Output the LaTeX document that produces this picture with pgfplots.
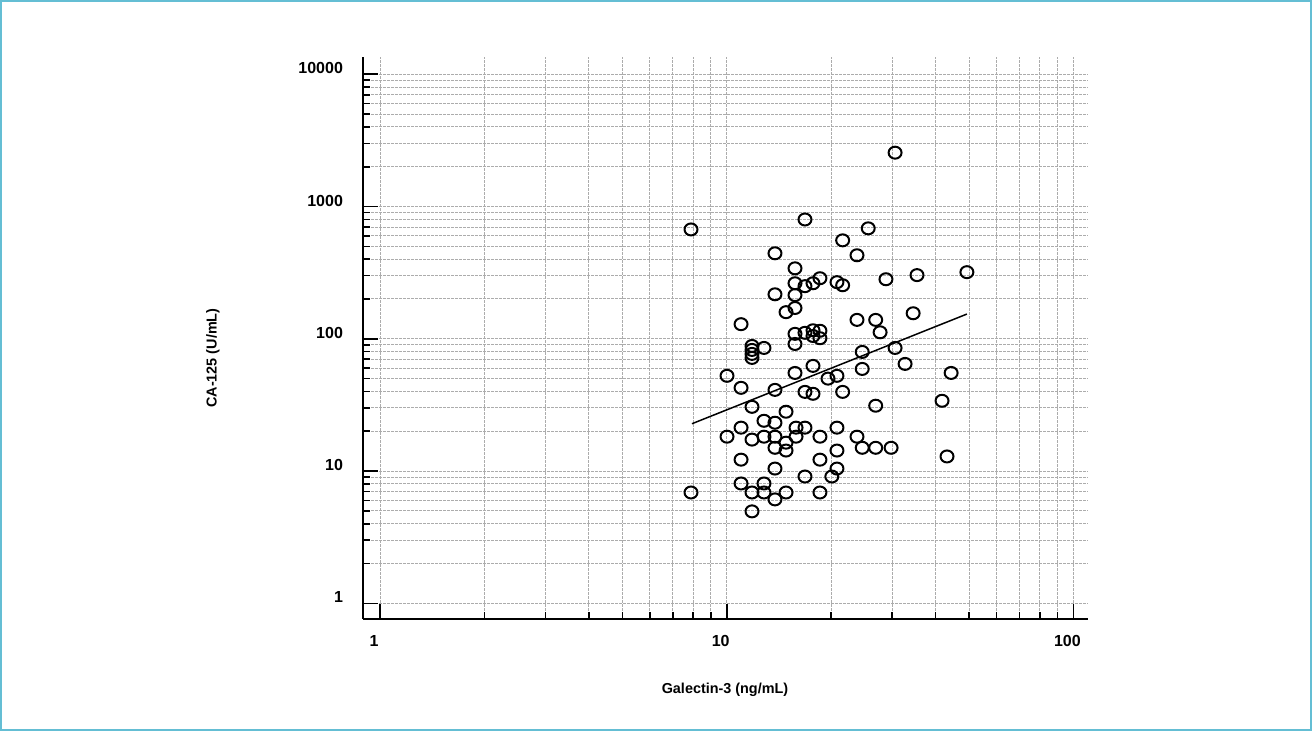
\documentclass[border=0pt]{standalone}
\usepackage{fontspec}
\setmainfont{Liberation Sans}
\usepackage{pgfplots}
\pgfplotsset{compat=1.18}
\definecolor{frameblue}{RGB}{100,190,212}
\begin{document}
\begin{tikzpicture}
\path[use as bounding box] (-181.5pt,-56pt) rectangle (474.5pt,309.5pt);
\begin{axis}[
 at={(0,0)}, anchor=south west,
 scale only axis, width=362.5pt, height=281pt,
 xmode=log, ymode=log,
 xmin=0.893, xmax=110.2, ymin=0.762, ymax=13500,
 axis x line=bottom, axis y line=left,
 axis line style={-, line width=1pt},
 xtick={1,10,100}, xticklabels={1,10,100},
 ytick={1,10,100,1000,10000}, yticklabels={1,10,100,1000,10000},
 minor xtick={2,3,4,5,6,7,8,9,20,30,40,50,60,70,80,90},
 minor ytick={2,3,4,5,6,7,8,9,20,30,40,50,60,70,80,90,200,300,400,500,600,700,800,900,2000,3000,4000,5000,6000,7000,8000,9000},
 grid=both,
 major grid style={gray!65, line width=0.5pt, dash pattern=on 1.5pt off 0.5pt},
 minor grid style={gray!65, line width=0.5pt, dash pattern=on 1.5pt off 0.5pt},
 tick align=inside,
 major tick length=7.5pt, minor tick length=3.5pt,
 tick style={black, line width=0.8pt},
 tick label style={font=\bfseries\fontsize{8}{9}\selectfont},
 /pgf/number format/assume math mode=true,
 xticklabel style={anchor=center, yshift=-11pt, xshift=-3pt},
 yticklabel style={anchor=east, xshift=-6.5pt, yshift=3pt},
 xlabel={Galectin-3 (ng/mL)}, ylabel={CA-125 (U/mL)},
 label style={font=\bfseries\fontsize{7.2}{9}\selectfont},
 xlabel style={at={(axis description cs:0.4993,-0.1263)}, anchor=center},
 ylabel style={at={(axis description cs:-0.2069,0.4644)}, anchor=center},
]
\addplot[only marks, mark=o, mark size=3pt, mark options={xscale=1.08, line width=1pt, black}] coordinates {
(7.89,671) (7.89,6.89) (30.6,2553) (16.82,798) (25.6,684) (21.6,555) (13.78,443) (23.76,428)
(15.74,341) (49.3,319) (35.4,303) (28.8,282) (18.58,287) (20.8,268) (21.6,254) (15.74,263)
(16.82,250) (17.74,263) (13.78,217) (15.74,214) (15.74,171) (14.83,159) (11.0,129) (34.5,156)
(23.76,139) (26.9,139) (27.7,112) (18.58,115) (18.58,101) (17.74,116) (17.74,105) (16.82,111)
(15.74,109) (15.74,91.4) (12.81,85.3) (11.83,88.3) (11.83,82.4) (11.83,76.9) (11.83,71.7)
(30.6,85.3) (24.6,79.6) (32.7,64.6) (15.74,55.2) (17.74,62.4) (24.6,59.2) (44.4,55.2)
(10.02,52.5) (20.8,52.5) (19.6,50.0) (11.0,42.6) (13.78,41.1) (16.82,39.7) (17.74,38.4)
(21.6,39.7) (41.8,34.0) (26.9,31.2) (11.83,30.6) (14.83,28.1) (12.81,24.0) (13.78,23.2)
(11.0,21.3) (15.85,21.3) (16.82,21.3) (20.8,21.3) (10.02,18.2) (11.83,17.3) (12.81,18.2)
(13.78,18.2) (15.85,18.2) (18.58,18.2) (23.76,18.2) (14.83,16.4) (13.78,15.0) (14.83,14.3)
(24.6,15.0) (26.9,15.0) (29.8,15.0) (20.8,14.3) (43.2,12.9) (11.0,12.2) (18.58,12.2)
(20.8,10.45) (13.78,10.45) (16.82,9.10) (20.1,9.10) (11.0,8.06) (12.81,8.06)
(11.83,6.89) (12.81,6.89) (14.83,6.89) (18.58,6.89) (13.78,6.11) (11.83,4.96)
};
\addplot[black, line width=0.75pt] coordinates {(7.94,22.8) (49.3,153.8)};
\end{axis}
\draw[frameblue, line width=1pt] (-181pt,-55.5pt) rectangle (474pt,309pt);
\end{tikzpicture}
\end{document}
